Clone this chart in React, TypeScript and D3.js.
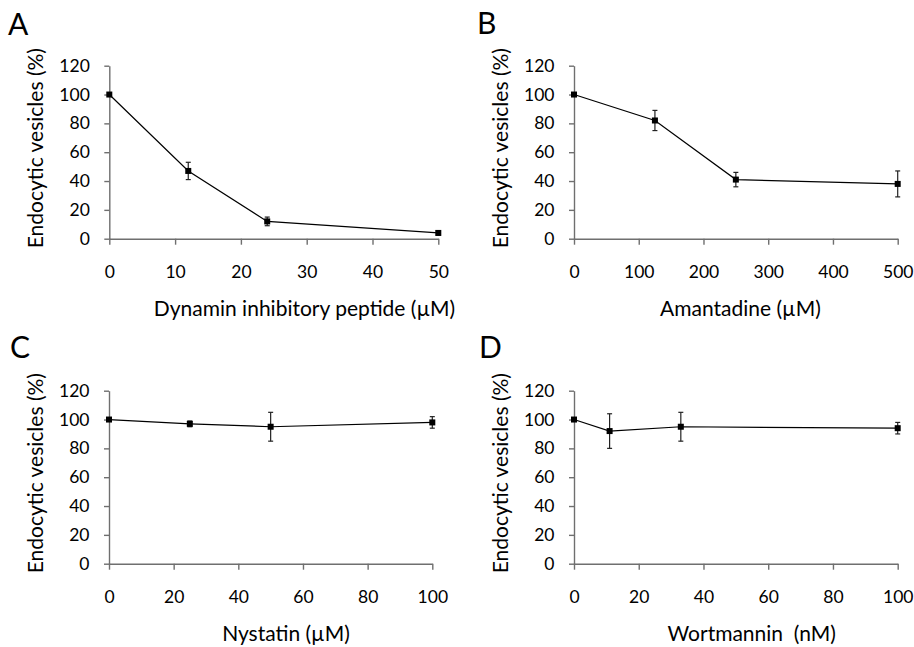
import React, { useRef, useEffect } from 'react';
import * as d3 from 'd3';

// shared y axis
const yTicks = [0, 20, 40, 60, 80, 100, 120];
const yLabel = 'Endocytic vesicles (%)';

// A - dynamin inhibitory peptide
const dynaminDose = [0, 12, 24, 50];
const dynaminPct = [100, 47, 12, 4];
const dynaminErr = [0, 6, 3, 1.5];
const dynaminTicks = [0, 10, 20, 30, 40, 50];

// B - amantadine
const amantadineDose = [0, 125, 250, 500];
const amantadinePct = [100, 82, 41, 38];
const amantadineErr = [0, 7, 5, 9];
const amantadineTicks = [0, 100, 200, 300, 400, 500];

// C - nystatin
const nystatinDose = [0, 25, 50, 100];
const nystatinPct = [100, 97, 95, 98];
const nystatinErr = [0, 2, 10, 4];
const nystatinTicks = [0, 20, 40, 60, 80, 100];

// D - wortmannin
const wortmanninDose = [0, 11, 33, 100];
const wortmanninPct = [100, 92, 95, 94];
const wortmanninErr = [0, 12, 10, 4];
const wortmanninTicks = [0, 20, 40, 60, 80, 100];

const FONT = 'Lato, "Open Sans", sans-serif';
const AXIS_COLOR = '#6f6f6f';

// layout of each panel (pixels)
const panels = [
  { letter: 'A', lx: 8, ly: 35, x0: 109.3, x1: 438.3, top: 65.7, bottom: 238.7, titleCx: 304.5,
    title: 'Dynamin inhibitory peptide (µM)', dose: dynaminDose, pct: dynaminPct, err: dynaminErr, ticks: dynaminTicks },
  { letter: 'B', lx: 477, ly: 34, x0: 574, x1: 897.7, top: 65.7, bottom: 238.7, titleCx: 740.5,
    title: 'Amantadine (µM)', dose: amantadineDose, pct: amantadinePct, err: amantadineErr, ticks: amantadineTicks },
  { letter: 'C', lx: 10, ly: 358, x0: 109, x1: 432.3, top: 390.7, bottom: 563.7, titleCx: 286,
    title: 'Nystatin (µM)', dose: nystatinDose, pct: nystatinPct, err: nystatinErr, ticks: nystatinTicks },
  { letter: 'D', lx: 479, ly: 358, x0: 574, x1: 897.7, top: 390.7, bottom: 563.7, titleCx: 751.7,
    title: 'Wortmannin  (nM)', dose: wortmanninDose, pct: wortmanninPct, err: wortmanninErr, ticks: wortmanninTicks },
];

const App = () => {
  const svgRef = useRef<SVGSVGElement>(null);

  useEffect(() => {
    const svg = d3.select(svgRef.current);
    svg.selectAll('*').remove();

    panels.forEach(p => {
      const xMax = p.ticks[p.ticks.length - 1];
      const x = d3.scaleLinear().domain([0, xMax]).range([p.x0, p.x1]);
      const y = d3.scaleLinear().domain([0, 120]).range([p.bottom, p.top]);
      const g = svg.append('g');

      // panel letter
      g.append('text')
        .attr('x', p.lx).attr('y', p.ly)
        .attr('font-family', FONT).attr('font-size', 30)
        .text(p.letter);

      // y axis
      const ya = g.append('g')
        .attr('transform', `translate(${p.x0},0)`)
        .call(d3.axisLeft(y).tickValues(yTicks).tickSize(5).tickPadding(14.5).tickSizeOuter(0));
      // x axis
      const xa = g.append('g')
        .attr('transform', `translate(0,${p.bottom})`)
        .call(d3.axisBottom(x).tickValues(p.ticks).tickSize(6).tickPadding(21).tickSizeOuter(0));

      [ya, xa].forEach(a => {
        a.attr('font-family', FONT).attr('font-size', 17.5);
        a.select('.domain').attr('stroke', AXIS_COLOR).attr('stroke-width', 1.4);
        a.selectAll('.tick line').attr('stroke', AXIS_COLOR).attr('stroke-width', 1.4);
        a.selectAll('.tick text').attr('fill', '#000');
      });

      // axis titles
      g.append('text')
        .attr('transform', `translate(${p.x0 - 66},${(p.top + p.bottom) / 2 - 4}) rotate(-90)`)
        .attr('text-anchor', 'middle')
        .attr('font-family', FONT).attr('font-size', 21)
        .text(yLabel);
      g.append('text')
        .attr('x', p.titleCx).attr('y', p.bottom + 77)
        .attr('text-anchor', 'middle')
        .attr('font-family', FONT).attr('font-size', 21)
        .style('white-space', 'pre')
        .text(p.title);

      const pts = p.dose.map((d, i) => ({ d, v: p.pct[i], e: p.err[i] }));

      // line
      const line = d3.line<any>().x(q => x(q.d)).y(q => y(q.v));
      g.append('path')
        .datum(pts)
        .attr('fill', 'none')
        .attr('stroke', '#000')
        .attr('stroke-width', 1.2)
        .attr('d', line);

      // error bars
      const eb = g.selectAll('.eb').data(pts.filter(q => q.e > 0)).enter().append('g');
      eb.append('line')
        .attr('x1', q => x(q.d)).attr('x2', q => x(q.d))
        .attr('y1', q => y(q.v + q.e)).attr('y2', q => y(q.v - q.e))
        .attr('stroke', '#222').attr('stroke-width', 1.2);
      [1, -1].forEach(s => {
        eb.append('line')
          .attr('x1', q => x(q.d) - 2.5).attr('x2', q => x(q.d) + 2.5)
          .attr('y1', q => y(q.v + s * q.e)).attr('y2', q => y(q.v + s * q.e))
          .attr('stroke', '#222').attr('stroke-width', 1.2);
      });

      // markers
      g.selectAll('.pt').data(pts).enter().append('rect')
        .attr('x', q => x(q.d) - 3).attr('y', q => y(q.v) - 3)
        .attr('width', 6).attr('height', 6)
        .attr('fill', '#000');
    });
  }, []);

  return (
    <svg ref={svgRef} width={914} height={647}
      style={{ position: 'absolute', left: 0, top: 0, background: '#fff' }} />
  );
};

export default App;
